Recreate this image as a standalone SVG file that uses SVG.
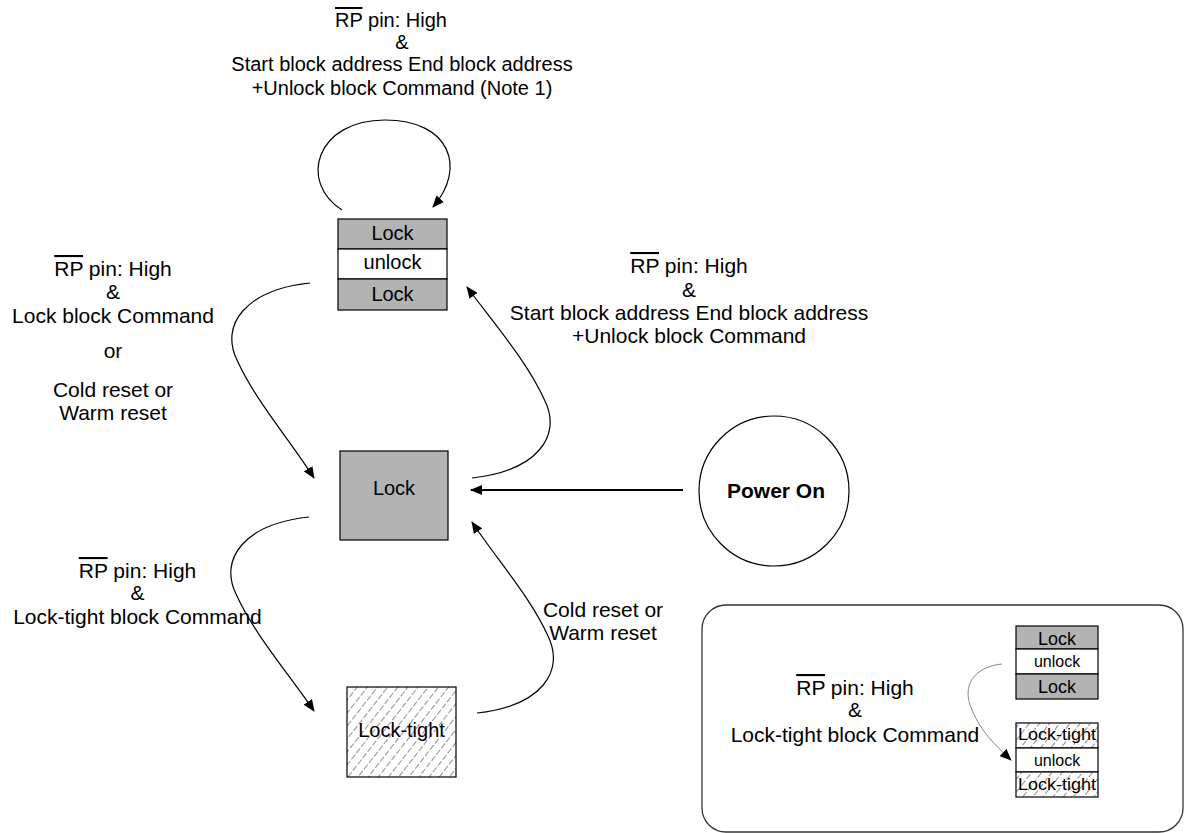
<svg xmlns="http://www.w3.org/2000/svg" width="1185" height="833" viewBox="0 0 1185 833">
<defs>
<style>
text{font-family:"Liberation Sans",Arial,sans-serif;fill:#000}
.lbl{font-size:21px;text-anchor:middle}
.lbt{font-size:20px;text-anchor:middle}
.blk{font-size:20px;text-anchor:middle}
.sm{font-size:18px;text-anchor:middle}
.ov{text-decoration:overline}
.gray{fill:#b3b3b3;stroke:#000;stroke-width:1.2}
.wht{fill:#fff;stroke:#000;stroke-width:1.2}
.edge{fill:none;stroke:#000;stroke-width:1.2}
</style>
<pattern id="hatch" width="8" height="8" patternUnits="userSpaceOnUse" patternTransform="rotate(38)">
<rect width="8" height="8" fill="#fff"/>
<line x1="0" y1="0" x2="0" y2="8" stroke="#222" stroke-width="1" stroke-dasharray="6 2"/>
</pattern>
<marker id="arr" viewBox="0 0 12 10" refX="11" refY="5" markerWidth="12" markerHeight="10" markerUnits="userSpaceOnUse" orient="auto">
<path d="M0,0 L12,5 L0,10 Z" fill="#000"/>
</marker>
</defs>

<g id="connectors">
<path class="edge" d="M342,210 C298,182 316,120 385,120 C450,120 467,168 433,207" marker-end="url(#arr)"/>
<path class="edge" d="M310,283 C245,290 220,325 237,360 C255,400 290,440 314,478" marker-end="url(#arr)"/>
<path class="edge" d="M309,517 C244,524 219,559 236,594 C254,634 289,674 314,711" marker-end="url(#arr)"/>
<path class="edge" d="M472,478 C537,471 562,436 545,401 C527,361 492,321 467,287" marker-end="url(#arr)"/>
<path class="edge" d="M477,713 C542,706 565,671 548,636 C530,596 497,560 472,522" marker-end="url(#arr)"/>
<path fill="none" stroke="#000" stroke-width="2" d="M683,490 L471,490" marker-end="url(#arr)"/>
<path fill="none" stroke="#888" stroke-width="1" d="M1002,664 C980,666 962,680 970,705 C979,730 995,745 1011,760" marker-end="url(#arr)"/>
</g>

<g id="node-top-stack">
<rect class="gray" x="338" y="219" width="109" height="30"/>
<rect class="wht" x="338" y="249" width="109" height="30"/>
<rect class="gray" x="338" y="279" width="109" height="31"/>
<text class="blk" x="392.5" y="240">Lock</text>
<text class="blk" x="392.5" y="269">unlock</text>
<text class="blk" x="392.5" y="301">Lock</text>
</g>

<g id="node-lock">
<rect class="gray" x="340" y="451" width="108" height="89"/>
<text class="blk" x="394" y="495">Lock</text>
</g>

<g id="node-lock-tight">
<rect x="347" y="687" width="109" height="90" fill="url(#hatch)" stroke="#000" stroke-width="1.2"/>
<text class="blk" x="401.5" y="737">Lock-tight</text>
</g>

<g id="node-power-on">
<circle cx="774" cy="491" r="75" fill="#fff" stroke="#000" stroke-width="1.2"/>
<text x="776" y="498" font-size="21" font-weight="bold" text-anchor="middle">Power On</text>
</g>

<g id="label-top">
<text class="lbt" x="391" y="27"><tspan class="ov">RP</tspan> pin: High</text>
<text class="lbt" x="402" y="49">&amp;</text>
<text class="lbt" x="402" y="71">Start block address End block address</text>
<text class="lbt" x="402" y="95">+Unlock block Command (Note 1)</text>
</g>

<g id="label-left">
<text class="lbl" x="113" y="276"><tspan class="ov">RP</tspan> pin: High</text>
<text class="lbl" x="113" y="299">&amp;</text>
<text class="lbl" x="113" y="323">Lock block Command</text>
<text class="lbl" x="113" y="358">or</text>
<text class="lbl" x="113" y="397">Cold reset or</text>
<text class="lbl" x="113" y="420">Warm reset</text>
</g>

<g id="label-right">
<text class="lbl" x="689" y="273"><tspan class="ov">RP</tspan> pin: High</text>
<text class="lbl" x="689" y="297">&amp;</text>
<text class="lbl" x="689" y="320">Start block address End block address</text>
<text class="lbl" x="689" y="343">+Unlock block Command</text>
</g>

<g id="label-lower-left">
<text class="lbl" x="137.5" y="578"><tspan class="ov">RP</tspan> pin: High</text>
<text class="lbl" x="137.5" y="600">&amp;</text>
<text class="lbl" x="137.5" y="624">Lock-tight block Command</text>
</g>

<g id="label-reset">
<text class="lbl" x="603" y="617">Cold reset or</text>
<text class="lbl" x="603" y="640">Warm reset</text>
</g>

<g id="legend">
<rect x="702" y="605" width="481" height="227" rx="24" fill="none" stroke="#333" stroke-width="1.3"/>
<text class="lbl" x="855" y="695"><tspan class="ov">RP</tspan> pin: High</text>
<text class="lbl" x="855" y="717">&amp;</text>
<text class="lbl" x="855" y="742">Lock-tight block Command</text>
<g id="legend-top-stack">
<rect class="gray" x="1016" y="626" width="82" height="23"/>
<rect class="wht" x="1016" y="649" width="82" height="25"/>
<rect class="gray" x="1016" y="674" width="82" height="25"/>
<text class="sm" x="1057" y="645">Lock</text>
<text x="1057" y="667" font-size="16" text-anchor="middle">unlock</text>
<text class="sm" x="1057" y="693">Lock</text>
</g>
<g id="legend-bottom-stack">
<rect x="1016" y="723" width="82" height="25" fill="url(#hatch)" stroke="#000" stroke-width="1.2"/>
<rect class="wht" x="1016" y="748" width="82" height="24"/>
<rect x="1016" y="772" width="82" height="25" fill="url(#hatch)" stroke="#000" stroke-width="1.2"/>
<text x="1057" y="740" font-size="17" text-anchor="middle" textLength="78" lengthAdjust="spacingAndGlyphs">Lock-tight</text>
<text x="1057" y="766" font-size="16" text-anchor="middle">unlock</text>
<text x="1057" y="790" font-size="17" text-anchor="middle" textLength="78" lengthAdjust="spacingAndGlyphs">Lock-tight</text>
</g>
</g>
</svg>
